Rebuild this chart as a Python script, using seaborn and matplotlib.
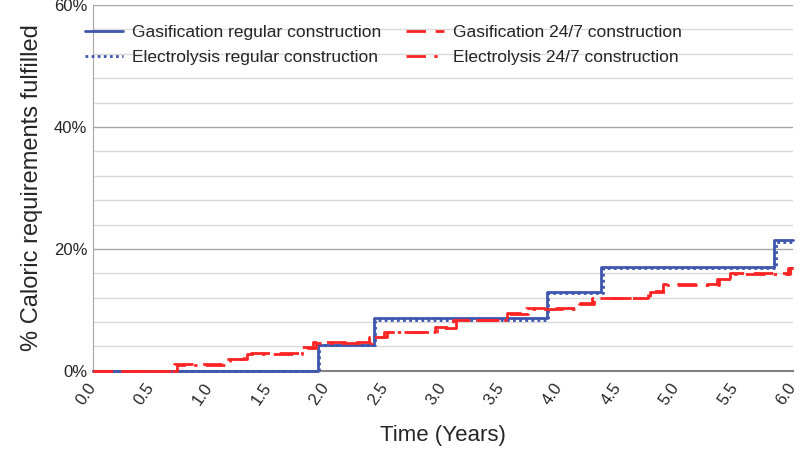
import pandas as pd
import matplotlib
matplotlib.use('Agg')
import matplotlib.pyplot as plt
import seaborn as sns
from matplotlib.ticker import MultipleLocator, FuncFormatter

# step data: time (years) where each level starts, and % caloric requirements fulfilled
gas_reg_t = [0, 1.93, 2.41, 3.89, 4.36, 5.84, 6.0]
gas_reg_v = [0, 4.3, 8.6, 12.9, 17.1, 21.4, 21.4]

ele_reg_t = [0, 1.94, 2.42, 3.90, 4.37, 5.86, 6.0]
ele_reg_v = [0, 4.2, 8.4, 12.7, 16.9, 21.1, 21.1]

gas_247_t = [0, 0.70, 1.16, 1.30, 1.77, 1.89, 2.37, 2.50, 2.93, 3.09,
             3.55, 3.71, 4.15, 4.28, 4.76, 4.89, 5.35, 5.46, 5.96, 6.0]
gas_247_v = [0, 1.1, 2.0, 2.9, 3.9, 4.7, 5.6, 6.4, 7.2, 8.4,
             9.5, 10.3, 11.1, 12.0, 13.1, 14.2, 15.1, 16.0, 16.9, 16.9]

ele_247_t = [0, 0.72, 1.18, 1.32, 1.79, 1.91, 2.39, 2.52, 2.95, 3.11,
             3.57, 3.73, 4.17, 4.30, 4.78, 4.91, 5.37, 5.48, 5.98, 6.0]
ele_247_v = [0, 1.0, 1.9, 2.8, 3.8, 4.6, 5.5, 6.3, 7.1, 8.3,
             9.4, 10.2, 11.0, 11.9, 13.0, 14.1, 15.0, 15.9, 16.8, 16.8]

x_ticks = [0.0, 0.5, 1.0, 1.5, 2.0, 2.5, 3.0, 3.5, 4.0, 4.5, 5.0, 5.5, 6.0]

sns.set_style('white')
plt.rcParams['font.family'] = ['Liberation Sans', 'DejaVu Sans']

blue = '#3F56AE'
red = '#FF2424'

fig = plt.figure(figsize=(8, 4.63), dpi=100)
ax = fig.add_axes([0.116, 0.199, 0.875, 0.790])

# order: legend fills column-wise with ncol=2
series = [
    ('Gasification regular construction', gas_reg_t, gas_reg_v, blue, '-', 2.0),
    ('Electrolysis regular construction', ele_reg_t, ele_reg_v, blue, (0, (1, 1.2)), 2.0),
    ('Gasification 24/7 construction', gas_247_t, gas_247_v, red, (0, (7, 3.5)), 2.0),
    ('Electrolysis 24/7 construction', ele_247_t, ele_247_v, red, (0, (7, 3, 1.2, 3)), 2.0),
]
for name, t, v, c, ls, lw in series:
    df = pd.DataFrame({'t': t, 'v': v})
    sns.lineplot(x='t', y='v', data=df, ax=ax, color=c, linestyle=ls, linewidth=lw,
                 drawstyle='steps-post', label=name, clip_on=False, zorder=5)

ax.set_xlim(0, 6)
ax.set_ylim(0, 60)
ax.set_xticks(x_ticks)
ax.set_xticklabels([f'{x:.1f}' for x in x_ticks], rotation=55, ha='right', va='center',
                   rotation_mode='anchor', fontsize=12)
ax.yaxis.set_major_locator(MultipleLocator(20))
ax.yaxis.set_minor_locator(MultipleLocator(4))
ax.yaxis.set_major_formatter(FuncFormatter(lambda y, p: f'{y:.0f}%'))
ax.tick_params(axis='y', labelsize=12, length=0, pad=4)
ax.tick_params(axis='x', length=0, pad=10)
ax.grid(which='major', axis='y', color='#A6A6A6', linewidth=1)
ax.grid(which='minor', axis='y', color='#D9D9D9', linewidth=1)
ax.set_axisbelow(True)

for s in ['top', 'right']:
    ax.spines[s].set_visible(False)
ax.spines['left'].set_color('#A6A6A6')
ax.spines['bottom'].set_color('#808080')
ax.spines['bottom'].set_linewidth(1.5)
ax.spines['bottom'].set_zorder(4)

ax.set_xlabel('Time (Years)', fontsize=16, labelpad=12)
ax.set_ylabel('% Caloric requirements fulfilled', fontsize=17, labelpad=8)

ax.legend(ncol=2, loc='upper center', bbox_to_anchor=(0.415, 0.98), frameon=False,
          fontsize=12.5, handlelength=2.2, handletextpad=0.5, columnspacing=1.4,
          borderpad=0.2, labelspacing=0.6)

fig.savefig('out.png', dpi=100)
